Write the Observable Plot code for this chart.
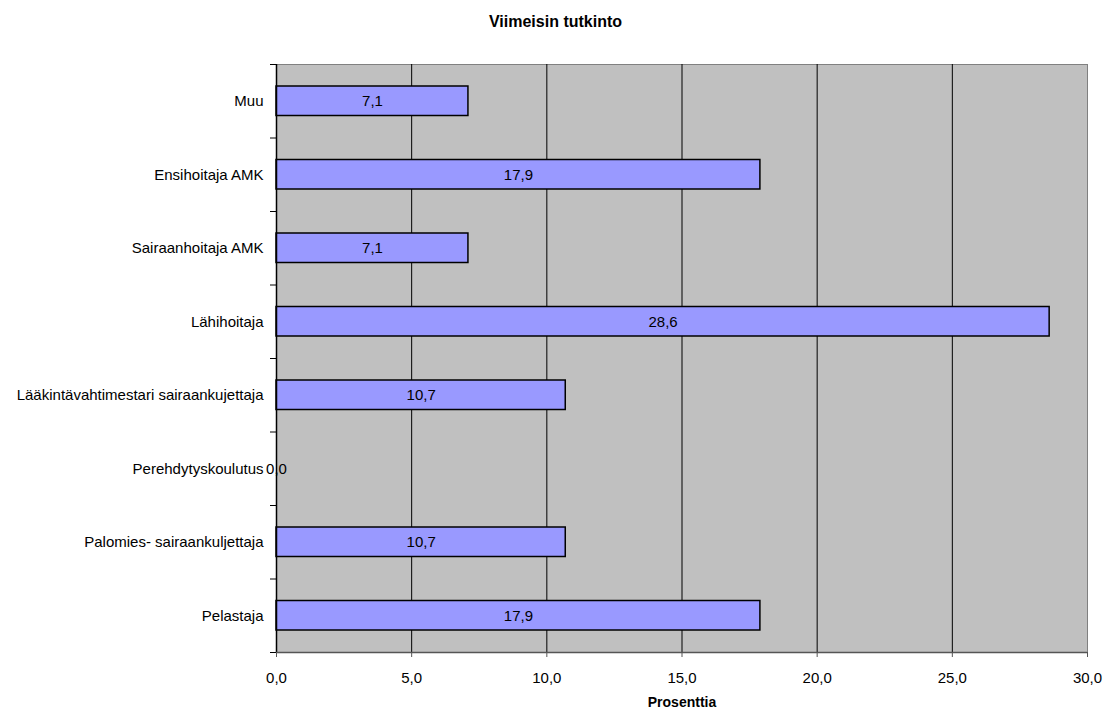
<!DOCTYPE html>
<html>
<head>
<meta charset="utf-8">
<script src="https://cdn.jsdelivr.net/npm/d3@7"></script>
<script src="https://cdn.jsdelivr.net/npm/@observablehq/plot@0.6"></script>
<style>
  body { margin: 0; background: #fff; font-family: "Liberation Sans", Arial, sans-serif; }
  #title { height: 44px; line-height: 44px; text-align: center; font-weight: bold; font-size: 16px; color: #000; }
  #chart svg { display: block; font-family: "Liberation Sans", Arial, sans-serif; }
</style>
</head>
<body>
<div id="title">Viimeisin tutkinto</div>
<div id="chart"></div>
<script>
// Latest degree, share of respondents (%), top to bottom
const categories = [
  "Muu",
  "Ensihoitaja AMK",
  "Sairaanhoitaja AMK",
  "Lähihoitaja",
  "Lääkintävahtimestari sairaankujettaja",
  "Perehdytyskoulutus",
  "Palomies- sairaankuljettaja",
  "Pelastaja"
];
const values = [7.1, 17.9, 7.1, 28.6, 10.7, 0.0, 10.7, 17.9];
const xTicks = [0, 5, 10, 15, 20, 25, 30];
const gridTicks = [5, 10, 15, 20, 25];

const fmt = v => d3.format(".1f")(v).replace(".", ",");

// rows sit on a numeric index scale so the axis ticks fall between categories
const data = categories.map((name, i) => ({name, i, value: values[i]}));
const boundaries = d3.range(categories.length + 1);
const centers = d3.range(categories.length).map(i => i + 0.5);

const chart = Plot.plot({
  width: 1111,
  height: 664,
  marginTop: 20,
  marginBottom: 56,
  marginLeft: 276,
  marginRight: 24,
  style: {fontSize: "15px", color: "#000", background: "#fff"},
  x: {domain: [0, 30]},
  y: {domain: [0, categories.length], reverse: true},
  marks: [
    Plot.frame({fill: "#c0c0c0", stroke: "#808080"}),
    Plot.ruleX(gridTicks, {stroke: "#000", strokeWidth: 1}),
    Plot.rectX(data, {
      x1: 0, x2: "value",
      y1: "i", y2: d => d.i + 1,
      insetTop: 22, insetBottom: 22,
      fill: "#9999ff", stroke: "#000", strokeWidth: 1.5
    }),
    Plot.text(data, {
      x: d => d.value / 2,
      y: d => d.i + 0.5,
      text: d => fmt(d.value),
      fill: "#000", fontSize: 15
    }),
    Plot.ruleX([0], {stroke: "#000", strokeWidth: 1.5}),
    Plot.ruleY([categories.length], {stroke: "#555", strokeWidth: 1.5}),
    Plot.axisX({
      ticks: xTicks, tickSize: 5, tickPadding: 15, fontSize: 15,
      tickFormat: fmt, label: null, stroke: "#555"
    }),
    Plot.axisY({
      ticks: boundaries, tickSize: 6, tickFormat: () => "", label: null
    }),
    Plot.axisY({
      ticks: centers, tickSize: 0, tickPadding: 13, fontSize: 15,
      tickFormat: t => categories[Math.floor(t)], label: null
    }),
    Plot.text(["Prosenttia"], {
      frameAnchor: "bottom", dy: 54, fontWeight: "bold", fontSize: 14, fill: "#000"
    })
  ]
});

document.getElementById("chart").appendChild(chart);
</script>
</body>
</html>
